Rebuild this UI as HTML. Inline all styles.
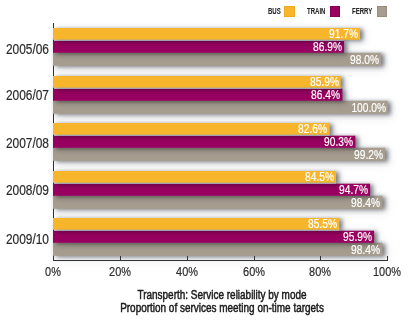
<!DOCTYPE html>
<html><head><meta charset="utf-8"><style>
html,body{margin:0;padding:0;background:#fff;}
body{width:408px;height:323px;position:relative;overflow:hidden;font-family:"Liberation Sans",sans-serif;}
svg{position:absolute;left:0;top:0;}
.v,.yl,.xl,.lg,.tt{position:absolute;white-space:nowrap;line-height:20px;height:20px;}
.v{width:200px;text-align:right;color:#fff;-webkit-text-stroke:0.2px #fff;font-size:13.5px;transform:scaleX(0.755);transform-origin:100% 50%;}
.yl{width:200px;text-align:right;color:#2b2b2b;-webkit-text-stroke:0.2px #2b2b2b;font-size:14.2px;transform:scaleX(0.84);transform-origin:100% 50%;}
.xl{width:200px;text-align:center;color:#2b2b2b;-webkit-text-stroke:0.2px #2b2b2b;font-size:13.2px;transform:scaleX(0.83);transform-origin:50% 50%;}
.lg{color:#262626;-webkit-text-stroke:0.1px #262626;font-weight:bold;font-size:9.9px;transform:scaleX(0.61);transform-origin:0 50%;}
.tt{width:400px;text-align:center;word-spacing:0px;color:#1e1e1e;-webkit-text-stroke:0.5px #1a1a1a;font-size:12.3px;transform:scaleX(0.81);transform-origin:50% 50%;}
</style></head><body>
<svg width="408" height="323" viewBox="0 0 408 323">
<defs><filter id="ds" x="-10%" y="-100%" width="120%" height="300%">
<feGaussianBlur in="SourceAlpha" stdDeviation="2.0" result="b1"/>
<feOffset in="b1" dx="2.6" dy="1.4" result="o1"/>
<feFlood flood-color="#686c74" flood-opacity="0.85"/>
<feComposite in2="o1" operator="in" result="s1"/>
<feGaussianBlur in="SourceAlpha" stdDeviation="4.0" result="b2"/>
<feOffset in="b2" dx="2.5" dy="3.0" result="o2"/>
<feFlood flood-color="#686c74" flood-opacity="0.22"/>
<feComposite in2="o2" operator="in" result="s2"/>
<feMerge><feMergeNode in="s2"/><feMergeNode in="s1"/></feMerge>
</filter></defs>
<rect x="53" y="23" width="1" height="237" fill="#333333"/>
<rect x="53.0" y="52.80" width="328.12" height="13.00" fill="#000" filter="url(#ds)" style="mix-blend-mode:multiply"/><rect x="53.0" y="52.80" width="328.12" height="13.00" fill="#A79E90"/><rect x="53.0" y="40.70" width="291.05" height="12.10" fill="#000" filter="url(#ds)" style="mix-blend-mode:multiply"/><rect x="53.0" y="40.70" width="291.05" height="12.10" fill="#990060"/><rect x="53.0" y="28.00" width="307.08" height="11.80" fill="#000" filter="url(#ds)" style="mix-blend-mode:multiply"/><rect x="53.0" y="28.00" width="307.08" height="11.80" fill="#F7B52B"/><rect x="54.0" y="39.80" width="290.05" height="0.90" fill="#b4bac6"/><rect x="53.0" y="100.80" width="334.80" height="13.00" fill="#000" filter="url(#ds)" style="mix-blend-mode:multiply"/><rect x="53.0" y="100.80" width="334.80" height="13.00" fill="#A79E90"/><rect x="53.0" y="88.70" width="289.38" height="12.10" fill="#000" filter="url(#ds)" style="mix-blend-mode:multiply"/><rect x="53.0" y="88.70" width="289.38" height="12.10" fill="#990060"/><rect x="53.0" y="76.00" width="287.71" height="11.80" fill="#000" filter="url(#ds)" style="mix-blend-mode:multiply"/><rect x="53.0" y="76.00" width="287.71" height="11.80" fill="#F7B52B"/><rect x="54.0" y="87.80" width="286.71" height="0.90" fill="#b4bac6"/><rect x="53.0" y="147.80" width="332.13" height="13.00" fill="#000" filter="url(#ds)" style="mix-blend-mode:multiply"/><rect x="53.0" y="147.80" width="332.13" height="13.00" fill="#A79E90"/><rect x="53.0" y="135.70" width="302.40" height="12.10" fill="#000" filter="url(#ds)" style="mix-blend-mode:multiply"/><rect x="53.0" y="135.70" width="302.40" height="12.10" fill="#990060"/><rect x="53.0" y="123.00" width="276.68" height="11.80" fill="#000" filter="url(#ds)" style="mix-blend-mode:multiply"/><rect x="53.0" y="123.00" width="276.68" height="11.80" fill="#F7B52B"/><rect x="54.0" y="134.80" width="275.68" height="0.90" fill="#b4bac6"/><rect x="53.0" y="195.80" width="329.46" height="13.00" fill="#000" filter="url(#ds)" style="mix-blend-mode:multiply"/><rect x="53.0" y="195.80" width="329.46" height="13.00" fill="#A79E90"/><rect x="53.0" y="183.70" width="317.10" height="12.10" fill="#000" filter="url(#ds)" style="mix-blend-mode:multiply"/><rect x="53.0" y="183.70" width="317.10" height="12.10" fill="#990060"/><rect x="53.0" y="171.00" width="283.03" height="11.80" fill="#000" filter="url(#ds)" style="mix-blend-mode:multiply"/><rect x="53.0" y="171.00" width="283.03" height="11.80" fill="#F7B52B"/><rect x="54.0" y="182.80" width="282.03" height="0.90" fill="#b4bac6"/><rect x="53.0" y="242.80" width="329.46" height="13.00" fill="#000" filter="url(#ds)" style="mix-blend-mode:multiply"/><rect x="53.0" y="242.80" width="329.46" height="13.00" fill="#A79E90"/><rect x="53.0" y="230.70" width="321.11" height="12.10" fill="#000" filter="url(#ds)" style="mix-blend-mode:multiply"/><rect x="53.0" y="230.70" width="321.11" height="12.10" fill="#990060"/><rect x="53.0" y="218.00" width="286.37" height="11.80" fill="#000" filter="url(#ds)" style="mix-blend-mode:multiply"/><rect x="53.0" y="218.00" width="286.37" height="11.80" fill="#F7B52B"/><rect x="54.0" y="229.80" width="285.37" height="0.90" fill="#b4bac6"/>
<rect x="53" y="260" width="335" height="1" fill="#333333"/>
<rect x="53" y="256" width="1" height="5" fill="#333333"/><rect x="120" y="256" width="1" height="5" fill="#333333"/><rect x="187" y="256" width="1" height="5" fill="#333333"/><rect x="254" y="256" width="1" height="5" fill="#333333"/><rect x="320" y="256" width="1" height="5" fill="#333333"/><rect x="387" y="256" width="1" height="5" fill="#333333"/>
<rect x="284.5" y="6.5" width="10" height="10" fill="#F7B52B" stroke="#F0A820" stroke-width="1"/>
<rect x="330.5" y="6.5" width="9" height="10" fill="#990060" stroke="#850052" stroke-width="1"/>
<rect x="377.5" y="6.5" width="9" height="10" fill="#A79E90" stroke="#978c7c" stroke-width="1"/>
</svg>
<div class="v" style="left:178.92px;top:49.70px">98.0%</div><div class="v" style="left:141.85px;top:37.15px">86.9%</div><div class="v" style="left:157.88px;top:24.30px">91.7%</div><div class="yl" style="left:-151.40px;top:38.55px">2005/06</div><div class="v" style="left:185.60px;top:97.70px">100.0%</div><div class="v" style="left:140.18px;top:85.15px">86.4%</div><div class="v" style="left:138.51px;top:72.30px">85.9%</div><div class="yl" style="left:-151.40px;top:85.15px">2006/07</div><div class="v" style="left:182.93px;top:144.70px">99.2%</div><div class="v" style="left:153.20px;top:132.15px">90.3%</div><div class="v" style="left:127.48px;top:119.30px">82.6%</div><div class="yl" style="left:-151.40px;top:133.35px">2007/08</div><div class="v" style="left:180.26px;top:192.70px">98.4%</div><div class="v" style="left:167.90px;top:180.15px">94.7%</div><div class="v" style="left:133.83px;top:167.30px">84.5%</div><div class="yl" style="left:-151.40px;top:180.35px">2008/09</div><div class="v" style="left:180.26px;top:239.70px">98.4%</div><div class="v" style="left:171.91px;top:227.15px">95.9%</div><div class="v" style="left:137.17px;top:214.30px">85.5%</div><div class="yl" style="left:-151.40px;top:228.85px">2009/10</div>
<div class="xl" style="left:-47.00px;top:261.60px">0%</div><div class="xl" style="left:20.00px;top:261.60px">20%</div><div class="xl" style="left:87.00px;top:261.60px">40%</div><div class="xl" style="left:154.00px;top:261.60px">60%</div><div class="xl" style="left:220.00px;top:261.60px">80%</div><div class="xl" style="left:287.00px;top:261.60px">100%</div>
<div class="lg" style="left:267.8px;top:1.3px">BUS</div>
<div class="lg" style="left:307.2px;top:1.3px">TRAIN</div>
<div class="lg" style="left:352.4px;top:1.3px">FERRY</div>
<div class="tt" style="left:22.00px;top:285.00px">Transperth: Service reliability by mode</div>
<div class="tt" style="left:22.00px;top:297.80px">Proportion of services meeting on-time targets</div>
</body></html>
